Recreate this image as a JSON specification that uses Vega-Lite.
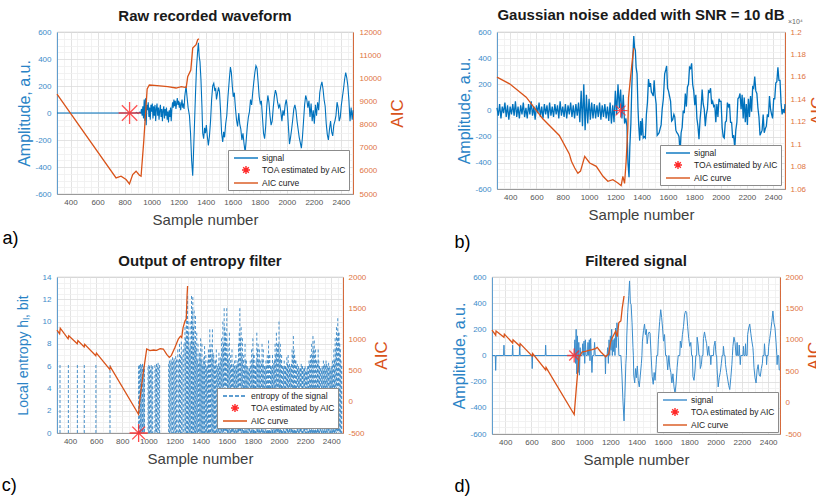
{
"$schema": "https://vega.github.io/schema/vega-lite/v6.json",
"background": "white",
"padding": {"left": 1, "top": 7, "right": 0, "bottom": 0},
"config": {
  "font": "Liberation Sans",
  "view": {"stroke": "#a6a6a6", "strokeWidth": 0.8},
  "title": {"fontSize": 15, "fontWeight": "bold", "color": "#1a1a1a", "offset": 4},
  "axis": {"ticks": false, "domainWidth": 0.8, "labelOverlap": false, "tickCount": 200},
  "legend": {"orient": "bottom-right", "fillColor": "white", "strokeColor": "#8c8c8c", "padding": 2, "labelFontSize": 8.5, "labelColor": "#222222", "symbolSize": 100, "rowPadding": 0, "symbolStrokeWidth": 1.4, "symbolOffset": 10, "labelOffset": 10, "zindex": 1}
},
"resolve": {"scale": {"color": "independent"}},
"datasets": {
"a_sig": [{"s":300,"v":0},{"s":880,"v":0},{"s":890,"v":4},{"s":900,"v":-4},{"s":910,"v":6},{"s":920,"v":0},{"s":925,"v":30},{"s":930,"v":-20},{"s":935,"v":50},{"s":940,"v":-40},{"s":945,"v":100},{"s":950,"v":-60},{"s":955,"v":110},{"s":960,"v":-90},{"s":965,"v":60},{"s":970,"v":20},{"s":975,"v":80},{"s":980,"v":-30},{"s":985,"v":40},{"s":990,"v":-50},{"s":995,"v":60},{"s":1000,"v":10},{"s":1005,"v":70},{"s":1010,"v":-40},{"s":1015,"v":50},{"s":1020,"v":-20},{"s":1025,"v":60},{"s":1030,"v":-60},{"s":1035,"v":30},{"s":1040,"v":70},{"s":1045,"v":-20},{"s":1050,"v":40},{"s":1055,"v":-50},{"s":1060,"v":20},{"s":1065,"v":60},{"s":1070,"v":-30},{"s":1075,"v":30},{"s":1080,"v":-60},{"s":1085,"v":20},{"s":1090,"v":50},{"s":1095,"v":-40},{"s":1100,"v":30},{"s":1105,"v":-20},{"s":1110,"v":40},{"s":1115,"v":-50},{"s":1120,"v":10},{"s":1125,"v":-70},{"s":1130,"v":20},{"s":1135,"v":-30},{"s":1140,"v":40},{"s":1145,"v":-60},{"s":1150,"v":30},{"s":1155,"v":80},{"s":1160,"v":40},{"s":1165,"v":100},{"s":1170,"v":50},{"s":1175,"v":90},{"s":1180,"v":30},{"s":1185,"v":70},{"s":1190,"v":110},{"s":1195,"v":60},{"s":1200,"v":90},{"s":1205,"v":40},{"s":1210,"v":80},{"s":1215,"v":20},{"s":1220,"v":60},{"s":1225,"v":100},{"s":1230,"v":40},{"s":1235,"v":70},{"s":1240,"v":30},{"s":1245,"v":120},{"s":1250,"v":160},{"s":1255,"v":200},{"s":1262,"v":120},{"s":1270,"v":40},{"s":1280,"v":-20},{"s":1288,"v":-150},{"s":1296,"v":-350},{"s":1304,"v":-465},{"s":1310,"v":-300},{"s":1318,"v":-60},{"s":1325,"v":150},{"s":1332,"v":330},{"s":1340,"v":450},{"s":1346,"v":520},{"s":1352,"v":420},{"s":1358,"v":380},{"s":1365,"v":250},{"s":1372,"v":60},{"s":1378,"v":-150},{"s":1385,"v":-190},{"s":1392,"v":-110},{"s":1398,"v":-150},{"s":1405,"v":-90},{"s":1412,"v":-170},{"s":1420,"v":-240},{"s":1428,"v":-170},{"s":1436,"v":-60},{"s":1444,"v":100},{"s":1452,"v":200},{"s":1460,"v":220},{"s":1467,"v":170},{"s":1474,"v":180},{"s":1480,"v":100},{"s":1488,"v":150},{"s":1495,"v":190},{"s":1502,"v":160},{"s":1510,"v":20},{"s":1518,"v":-150},{"s":1526,"v":-215},{"s":1533,"v":-140},{"s":1540,"v":-180},{"s":1548,"v":-80},{"s":1556,"v":-20},{"s":1565,"v":120},{"s":1575,"v":250},{"s":1583,"v":340},{"s":1590,"v":300},{"s":1597,"v":200},{"s":1604,"v":120},{"s":1612,"v":150},{"s":1620,"v":40},{"s":1628,"v":-50},{"s":1636,"v":-100},{"s":1645,"v":0},{"s":1652,"v":-80},{"s":1660,"v":-120},{"s":1668,"v":-200},{"s":1676,"v":-150},{"s":1684,"v":-230},{"s":1692,"v":-290},{"s":1700,"v":-200},{"s":1708,"v":-100},{"s":1716,"v":-30},{"s":1724,"v":10},{"s":1732,"v":100},{"s":1740,"v":60},{"s":1748,"v":150},{"s":1756,"v":230},{"s":1764,"v":300},{"s":1772,"v":350},{"s":1780,"v":330},{"s":1788,"v":230},{"s":1796,"v":120},{"s":1804,"v":70},{"s":1812,"v":90},{"s":1820,"v":-30},{"s":1828,"v":-150},{"s":1836,"v":-190},{"s":1844,"v":-100},{"s":1852,"v":50},{"s":1860,"v":130},{"s":1868,"v":80},{"s":1876,"v":-20},{"s":1884,"v":-90},{"s":1892,"v":-60},{"s":1900,"v":40},{"s":1908,"v":120},{"s":1916,"v":170},{"s":1924,"v":140},{"s":1932,"v":80},{"s":1940,"v":40},{"s":1948,"v":60},{"s":1956,"v":10},{"s":1964,"v":-60},{"s":1972,"v":20},{"s":1980,"v":-20},{"s":1988,"v":60},{"s":1996,"v":100},{"s":2004,"v":40},{"s":2012,"v":-100},{"s":2020,"v":-230},{"s":2028,"v":-180},{"s":2036,"v":-120},{"s":2044,"v":-50},{"s":2052,"v":30},{"s":2060,"v":60},{"s":2068,"v":20},{"s":2076,"v":-60},{"s":2084,"v":-120},{"s":2092,"v":-180},{"s":2100,"v":-220},{"s":2108,"v":-260},{"s":2116,"v":-180},{"s":2124,"v":-60},{"s":2132,"v":60},{"s":2140,"v":130},{"s":2148,"v":100},{"s":2156,"v":40},{"s":2164,"v":90},{"s":2172,"v":-30},{"s":2180,"v":70},{"s":2188,"v":-60},{"s":2196,"v":20},{"s":2204,"v":-80},{"s":2212,"v":60},{"s":2220,"v":-20},{"s":2228,"v":80},{"s":2236,"v":20},{"s":2244,"v":150},{"s":2252,"v":200},{"s":2260,"v":230},{"s":2268,"v":180},{"s":2276,"v":100},{"s":2284,"v":50},{"s":2292,"v":-80},{"s":2300,"v":-160},{"s":2308,"v":-200},{"s":2316,"v":-120},{"s":2324,"v":-60},{"s":2332,"v":-140},{"s":2340,"v":-170},{"s":2348,"v":-90},{"s":2356,"v":-60},{"s":2364,"v":-20},{"s":2372,"v":80},{"s":2380,"v":40},{"s":2388,"v":-60},{"s":2396,"v":-30},{"s":2404,"v":60},{"s":2412,"v":120},{"s":2420,"v":180},{"s":2428,"v":250},{"s":2436,"v":300},{"s":2444,"v":260},{"s":2452,"v":200},{"s":2460,"v":90},{"s":2468,"v":-60},{"s":2476,"v":40},{"s":2484,"v":-50},{"s":2490,"v":20}],
"a_aic": [{"s":300,"aic":9318},{"s":737,"aic":5696},{"s":774,"aic":5768},{"s":811,"aic":5623},{"s":836,"aic":5435},{"s":860,"aic":5840},{"s":885,"aic":5985},{"s":910,"aic":5811},{"s":922,"aic":5768},{"s":942,"aic":7290},{"s":967,"aic":9535},{"s":983,"aic":9709},{"s":1021,"aic":9690},{"s":1119,"aic":9644},{"s":1181,"aic":9580},{"s":1220,"aic":9640},{"s":1256,"aic":9600},{"s":1267,"aic":10064},{"s":1290,"aic":10354},{"s":1304,"aic":11304},{"s":1329,"aic":11449},{"s":1341,"aic":11666},{"s":1350,"aic":11709}],
"a_toa": [{"s":837,"v":0}],
"b_sig": [{"s":300,"v":20},{"s":310,"v":-40},{"s":320,"v":50},{"s":330,"v":-60},{"s":340,"v":30},{"s":350,"v":-20},{"s":360,"v":60},{"s":370,"v":-50},{"s":380,"v":40},{"s":390,"v":-70},{"s":400,"v":30},{"s":410,"v":-30},{"s":420,"v":50},{"s":430,"v":-40},{"s":440,"v":70},{"s":450,"v":-50},{"s":460,"v":30},{"s":470,"v":-60},{"s":480,"v":40},{"s":490,"v":-30},{"s":500,"v":60},{"s":510,"v":-50},{"s":520,"v":20},{"s":530,"v":-60},{"s":540,"v":50},{"s":550,"v":-30},{"s":560,"v":70},{"s":570,"v":-40},{"s":580,"v":30},{"s":590,"v":-70},{"s":600,"v":40},{"s":610,"v":-20},{"s":620,"v":60},{"s":630,"v":-50},{"s":640,"v":30},{"s":650,"v":-60},{"s":660,"v":50},{"s":670,"v":-30},{"s":680,"v":40},{"s":690,"v":-60},{"s":700,"v":60},{"s":710,"v":-40},{"s":720,"v":30},{"s":730,"v":-50},{"s":740,"v":50},{"s":750,"v":-30},{"s":760,"v":40},{"s":770,"v":-60},{"s":780,"v":70},{"s":790,"v":-40},{"s":800,"v":30},{"s":810,"v":-50},{"s":820,"v":50},{"s":830,"v":-60},{"s":840,"v":40},{"s":850,"v":-30},{"s":860,"v":60},{"s":870,"v":-50},{"s":880,"v":40},{"s":890,"v":-60},{"s":900,"v":50},{"s":910,"v":-40},{"s":920,"v":60},{"s":930,"v":-90},{"s":940,"v":150},{"s":950,"v":-120},{"s":960,"v":200},{"s":970,"v":-150},{"s":980,"v":120},{"s":990,"v":-100},{"s":1000,"v":90},{"s":1010,"v":-70},{"s":1020,"v":60},{"s":1030,"v":-60},{"s":1040,"v":50},{"s":1050,"v":-60},{"s":1060,"v":40},{"s":1070,"v":-50},{"s":1080,"v":60},{"s":1090,"v":-70},{"s":1100,"v":40},{"s":1110,"v":-50},{"s":1120,"v":50},{"s":1130,"v":-60},{"s":1140,"v":30},{"s":1150,"v":-80},{"s":1160,"v":60},{"s":1170,"v":-100},{"s":1180,"v":40},{"s":1190,"v":-90},{"s":1200,"v":150},{"s":1210,"v":-30},{"s":1220,"v":200},{"s":1230,"v":20},{"s":1240,"v":160},{"s":1250,"v":-60},{"s":1260,"v":120},{"s":1270,"v":-100},{"s":1280,"v":-60},{"s":1288,"v":-120},{"s":1296,"v":-400},{"s":1304,"v":-510},{"s":1310,"v":-280},{"s":1318,"v":-100},{"s":1325,"v":180},{"s":1332,"v":380},{"s":1340,"v":570},{"s":1346,"v":480},{"s":1352,"v":460},{"s":1358,"v":330},{"s":1365,"v":280},{"s":1372,"v":20},{"s":1378,"v":-120},{"s":1385,"v":-230},{"s":1392,"v":-80},{"s":1398,"v":-190},{"s":1405,"v":-60},{"s":1412,"v":-210},{"s":1420,"v":-200},{"s":1428,"v":-210},{"s":1436,"v":-30},{"s":1444,"v":60},{"s":1452,"v":240},{"s":1460,"v":180},{"s":1467,"v":210},{"s":1474,"v":140},{"s":1480,"v":130},{"s":1488,"v":110},{"s":1495,"v":230},{"s":1502,"v":120},{"s":1510,"v":50},{"s":1518,"v":-190},{"s":1526,"v":-180},{"s":1533,"v":-170},{"s":1540,"v":-140},{"s":1548,"v":-110},{"s":1556,"v":10},{"s":1565,"v":90},{"s":1575,"v":280},{"s":1583,"v":310},{"s":1590,"v":340},{"s":1597,"v":170},{"s":1604,"v":150},{"s":1612,"v":110},{"s":1620,"v":70},{"s":1628,"v":-80},{"s":1636,"v":-70},{"s":1645,"v":-30},{"s":1652,"v":-50},{"s":1660,"v":-150},{"s":1668,"v":-170},{"s":1676,"v":-180},{"s":1684,"v":-200},{"s":1692,"v":-320},{"s":1700,"v":-170},{"s":1708,"v":-130},{"s":1716,"v":0},{"s":1724,"v":-20},{"s":1732,"v":130},{"s":1740,"v":30},{"s":1748,"v":180},{"s":1756,"v":200},{"s":1764,"v":330},{"s":1772,"v":320},{"s":1780,"v":360},{"s":1788,"v":200},{"s":1796,"v":150},{"s":1804,"v":40},{"s":1812,"v":120},{"s":1820,"v":-60},{"s":1828,"v":-120},{"s":1836,"v":-220},{"s":1844,"v":-70},{"s":1852,"v":20},{"s":1860,"v":160},{"s":1868,"v":50},{"s":1876,"v":10},{"s":1884,"v":-120},{"s":1892,"v":-30},{"s":1900,"v":10},{"s":1908,"v":150},{"s":1916,"v":140},{"s":1924,"v":170},{"s":1932,"v":50},{"s":1940,"v":70},{"s":1948,"v":30},{"s":1956,"v":40},{"s":1964,"v":-90},{"s":1972,"v":50},{"s":1980,"v":-50},{"s":1988,"v":90},{"s":1996,"v":70},{"s":2004,"v":70},{"s":2012,"v":-130},{"s":2020,"v":-200},{"s":2028,"v":-210},{"s":2036,"v":-90},{"s":2044,"v":-80},{"s":2052,"v":60},{"s":2060,"v":30},{"s":2068,"v":50},{"s":2076,"v":-90},{"s":2084,"v":-90},{"s":2092,"v":-210},{"s":2100,"v":-190},{"s":2108,"v":-290},{"s":2116,"v":-150},{"s":2124,"v":-90},{"s":2132,"v":90},{"s":2140,"v":100},{"s":2148,"v":130},{"s":2156,"v":10},{"s":2164,"v":120},{"s":2172,"v":-60},{"s":2180,"v":100},{"s":2188,"v":-90},{"s":2196,"v":50},{"s":2204,"v":-110},{"s":2212,"v":90},{"s":2220,"v":-50},{"s":2228,"v":110},{"s":2236,"v":-10},{"s":2244,"v":180},{"s":2252,"v":170},{"s":2260,"v":260},{"s":2268,"v":150},{"s":2276,"v":130},{"s":2284,"v":20},{"s":2292,"v":-50},{"s":2300,"v":-190},{"s":2308,"v":-170},{"s":2316,"v":-150},{"s":2324,"v":-30},{"s":2332,"v":-170},{"s":2340,"v":-140},{"s":2348,"v":-120},{"s":2356,"v":-30},{"s":2364,"v":-50},{"s":2372,"v":110},{"s":2380,"v":10},{"s":2388,"v":-30},{"s":2396,"v":-60},{"s":2404,"v":90},{"s":2412,"v":90},{"s":2420,"v":210},{"s":2428,"v":220},{"s":2436,"v":330},{"s":2444,"v":230},{"s":2452,"v":230},{"s":2460,"v":60},{"s":2468,"v":-30},{"s":2476,"v":10},{"s":2484,"v":-20},{"s":2490,"v":50}],
"b_aic": [{"s":300,"aic":11598},{"s":396,"aic":11538},{"s":522,"aic":11419},{"s":648,"aic":11226},{"s":774,"aic":11077},{"s":850,"aic":10913},{"s":866,"aic":10847},{"s":891,"aic":10787},{"s":915,"aic":10740},{"s":935,"aic":10760},{"s":967,"aic":10891},{"s":1005,"aic":10832},{"s":1055,"aic":10802},{"s":1106,"aic":10713},{"s":1143,"aic":10669},{"s":1181,"aic":10683},{"s":1219,"aic":10654},{"s":1244,"aic":10630},{"s":1257,"aic":10713},{"s":1270,"aic":10650},{"s":1282,"aic":10847},{"s":1295,"aic":11144},{"s":1300,"aic":11411},{"s":1315,"aic":11590},{"s":1328,"aic":11739},{"s":1340,"aic":11857}],
"b_toa": [{"s":1240,"v":0}],
"b_exp": [{"s":2490,"aic":12000,"label":"×10⁴"}],
"c_ent": [{"s":323,"h":6.1},{"s":387,"h":6.1},{"s":456,"h":6.1},{"s":509,"h":6.1},{"s":598,"h":6.1},{"s":706,"h":6.1},{"s":925,"h":6.0},{"s":930,"h":6.1},{"s":935,"h":6.0},{"s":940,"h":6.2},{"s":945,"h":5.9},{"s":950,"h":6.1},{"s":955,"h":6.2},{"s":960,"h":5.8},{"s":965,"h":6.0},{"s":970,"h":6.2},{"s":997,"h":5.9},{"s":1003,"h":6.1},{"s":1009,"h":6.0},{"s":1015,"h":5.7},{"s":1021,"h":6.1},{"s":1027,"h":5.9},{"s":1033,"h":6.0},{"s":1050,"h":6.1},{"s":1056,"h":5.8},{"s":1062,"h":6.2},{"s":1068,"h":6.0},{"s":1074,"h":6.3},{"s":1080,"h":5.9},{"s":1086,"h":6.1},{"s":1155,"h":6.2},{"s":1161,"h":6.5},{"s":1167,"h":6.3},{"s":1173,"h":6.6},{"s":1179,"h":6.4},{"s":1185,"h":6.8},{"s":1191,"h":6.5},{"s":1197,"h":6.7},{"s":1203,"h":6.4},{"s":1209,"h":6.9},{"s":1215,"h":6.6},{"s":1225,"h":7.5},{"s":1232,"h":6.5},{"s":1238,"h":8.0},{"s":1245,"h":7.0},{"s":1252,"h":8.2},{"s":1258,"h":6.8},{"s":1265,"h":7.5},{"s":1272,"h":8.0},{"s":1280,"h":9.5},{"s":1290,"h":11.0},{"s":1300,"h":12.3},{"s":1310,"h":10.0},{"s":1320,"h":8.0},{"s":1330,"h":12.3},{"s":1340,"h":12.2},{"s":1350,"h":11.0},{"s":1360,"h":10.5},{"s":1370,"h":9.0},{"s":1380,"h":8.0},{"s":1390,"h":7.2},{"s":1400,"h":8.5},{"s":1410,"h":8.0},{"s":1420,"h":6.5},{"s":1430,"h":7.8},{"s":1440,"h":7.0},{"s":1450,"h":6.0},{"s":1460,"h":7.5},{"s":1470,"h":9.3},{"s":1480,"h":8.0},{"s":1490,"h":9.3},{"s":1500,"h":7.0},{"s":1510,"h":6.5},{"s":1520,"h":7.5},{"s":1530,"h":6.0},{"s":1540,"h":7.2},{"s":1550,"h":6.8},{"s":1560,"h":8.5},{"s":1570,"h":10.0},{"s":1580,"h":11.2},{"s":1590,"h":9.0},{"s":1600,"h":11.2},{"s":1610,"h":8.0},{"s":1620,"h":9.0},{"s":1630,"h":7.0},{"s":1640,"h":7.5},{"s":1650,"h":6.2},{"s":1660,"h":6.5},{"s":1670,"h":7.0},{"s":1680,"h":6.2},{"s":1690,"h":8.0},{"s":1700,"h":11.2},{"s":1710,"h":9.5},{"s":1720,"h":8.5},{"s":1730,"h":7.0},{"s":1740,"h":8.0},{"s":1750,"h":6.5},{"s":1760,"h":6.0},{"s":1770,"h":5.8},{"s":1780,"h":6.5},{"s":1790,"h":7.5},{"s":1800,"h":8.5},{"s":1810,"h":7.0},{"s":1820,"h":6.0},{"s":1830,"h":9.0},{"s":1840,"h":8.0},{"s":1850,"h":7.5},{"s":1860,"h":6.5},{"s":1870,"h":8.0},{"s":1880,"h":7.5},{"s":1890,"h":6.0},{"s":1900,"h":6.5},{"s":1910,"h":7.0},{"s":1920,"h":8.3},{"s":1930,"h":7.0},{"s":1940,"h":6.0},{"s":1950,"h":7.0},{"s":1960,"h":6.3},{"s":1970,"h":8.0},{"s":1980,"h":9.0},{"s":1990,"h":8.0},{"s":2000,"h":10.0},{"s":2010,"h":8.0},{"s":2020,"h":7.0},{"s":2030,"h":6.0},{"s":2040,"h":6.5},{"s":2050,"h":6.0},{"s":2060,"h":6.8},{"s":2070,"h":7.0},{"s":2080,"h":6.2},{"s":2090,"h":6.0},{"s":2100,"h":7.5},{"s":2110,"h":8.7},{"s":2120,"h":7.0},{"s":2130,"h":6.5},{"s":2140,"h":6.2},{"s":2150,"h":6.0},{"s":2160,"h":5.8},{"s":2170,"h":6.2},{"s":2180,"h":6.0},{"s":2190,"h":5.8},{"s":2200,"h":6.0},{"s":2210,"h":5.5},{"s":2220,"h":6.0},{"s":2230,"h":6.5},{"s":2240,"h":7.0},{"s":2250,"h":8.0},{"s":2260,"h":8.7},{"s":2270,"h":8.3},{"s":2280,"h":7.5},{"s":2290,"h":6.5},{"s":2300,"h":7.5},{"s":2310,"h":6.0},{"s":2320,"h":5.8},{"s":2330,"h":6.0},{"s":2340,"h":6.5},{"s":2350,"h":6.2},{"s":2360,"h":6.5},{"s":2370,"h":6.0},{"s":2380,"h":6.3},{"s":2390,"h":5.8},{"s":2400,"h":6.0},{"s":2410,"h":6.5},{"s":2420,"h":7.5},{"s":2430,"h":8.5},{"s":2440,"h":9.5},{"s":2450,"h":10.3},{"s":2460,"h":9.0},{"s":2470,"h":7.5},{"s":2480,"h":6.0},{"s":1285,"h":8.5},{"s":1295,"h":10.5},{"s":1305,"h":9.0},{"s":1315,"h":7.5},{"s":1325,"h":10.0},{"s":1335,"h":11.0},{"s":1345,"h":9.5},{"s":1355,"h":8.0},{"s":1365,"h":7.5},{"s":1375,"h":6.5},{"s":1385,"h":6.2},{"s":1395,"h":7.0},{"s":1405,"h":6.5},{"s":1415,"h":6.0},{"s":1425,"h":6.8},{"s":1435,"h":6.2},{"s":1445,"h":5.8},{"s":1455,"h":6.5},{"s":1465,"h":7.0},{"s":1475,"h":7.5},{"s":1485,"h":6.8},{"s":1495,"h":7.2},{"s":1505,"h":6.0},{"s":1515,"h":6.5},{"s":1525,"h":5.8},{"s":1535,"h":6.2},{"s":1545,"h":6.0},{"s":1555,"h":6.5},{"s":1565,"h":7.5},{"s":1575,"h":8.0},{"s":1585,"h":9.5},{"s":1595,"h":8.5},{"s":1605,"h":7.0},{"s":1615,"h":6.5},{"s":1625,"h":6.0},{"s":1635,"h":6.2},{"s":1645,"h":5.8},{"s":1655,"h":6.0},{"s":1665,"h":5.8},{"s":1675,"h":6.0},{"s":1685,"h":6.5},{"s":1695,"h":9.0},{"s":1705,"h":8.5},{"s":1715,"h":7.0},{"s":1725,"h":6.5},{"s":1735,"h":6.0},{"s":1745,"h":6.5},{"s":1755,"h":5.8},{"s":1765,"h":5.5},{"s":1775,"h":5.8},{"s":1785,"h":6.0},{"s":1795,"h":6.5},{"s":1805,"h":7.0},{"s":1815,"h":6.0},{"s":1825,"h":6.5},{"s":1835,"h":7.5},{"s":1845,"h":6.5},{"s":1855,"h":6.0},{"s":1865,"h":6.2},{"s":1875,"h":6.5},{"s":1885,"h":6.0},{"s":1895,"h":5.8},{"s":1905,"h":6.0},{"s":1915,"h":6.5},{"s":1925,"h":7.0},{"s":1935,"h":6.0},{"s":1945,"h":5.8},{"s":1955,"h":6.0},{"s":1965,"h":6.5},{"s":1975,"h":7.0},{"s":1985,"h":7.5},{"s":1995,"h":8.0},{"s":2005,"h":7.0},{"s":2015,"h":6.5},{"s":2025,"h":6.0},{"s":2035,"h":5.8},{"s":2045,"h":6.0},{"s":2055,"h":5.8},{"s":2065,"h":6.2},{"s":2075,"h":6.0},{"s":2085,"h":5.8},{"s":2095,"h":6.2},{"s":2105,"h":7.0},{"s":2115,"h":7.5},{"s":2125,"h":6.5},{"s":2135,"h":6.0},{"s":2145,"h":5.8},{"s":2155,"h":5.6},{"s":2165,"h":5.8},{"s":2175,"h":6.0},{"s":2185,"h":5.6},{"s":2195,"h":5.8},{"s":2205,"h":5.5},{"s":2215,"h":5.8},{"s":2225,"h":6.0},{"s":2235,"h":6.2},{"s":2245,"h":6.5},{"s":2255,"h":7.0},{"s":2265,"h":7.5},{"s":2275,"h":7.0},{"s":2285,"h":6.5},{"s":2295,"h":6.2},{"s":2305,"h":6.5},{"s":2315,"h":5.8},{"s":2325,"h":5.6},{"s":2335,"h":5.8},{"s":2345,"h":6.0},{"s":2355,"h":6.0},{"s":2365,"h":6.2},{"s":2375,"h":5.8},{"s":2385,"h":6.0},{"s":2395,"h":5.6},{"s":2405,"h":5.8},{"s":2415,"h":6.2},{"s":2425,"h":6.5},{"s":2435,"h":7.5},{"s":2445,"h":8.5},{"s":2455,"h":9.0},{"s":2465,"h":8.0},{"s":2475,"h":6.5}],
"c_aic": [{"s":300,"aic":1150},{"s":320,"aic":1090},{"s":325,"aic":1180},{"s":385,"aic":1010},{"s":390,"aic":1060},{"s":455,"aic":930},{"s":460,"aic":980},{"s":508,"aic":880},{"s":512,"aic":920},{"s":597,"aic":740},{"s":602,"aic":780},{"s":704,"aic":520},{"s":709,"aic":560},{"s":924,"aic":-200},{"s":935,"aic":45},{"s":961,"aic":473},{"s":987,"aic":846},{"s":1012,"aic":819},{"s":1040,"aic":830},{"s":1063,"aic":825},{"s":1090,"aic":850},{"s":1114,"aic":846},{"s":1140,"aic":760},{"s":1160,"aic":713},{"s":1175,"aic":740},{"s":1203,"aic":870},{"s":1229,"aic":1006},{"s":1245,"aic":1052},{"s":1255,"aic":1030},{"s":1265,"aic":1186},{"s":1280,"aic":1293},{"s":1290,"aic":1330},{"s":1296,"aic":1700},{"s":1300,"aic":1855}],
"c_toa": [{"s":925,"h":0}],
"d_sig": [{"s":300,"v":0},{"s":325,"v":0},{"s":328,"v":-114},{"s":331,"v":0},{"s":388,"v":0},{"s":391,"v":79},{"s":394,"v":0},{"s":454,"v":0},{"s":457,"v":79},{"s":460,"v":0},{"s":508,"v":0},{"s":511,"v":79},{"s":514,"v":0},{"s":603,"v":0},{"s":606,"v":-100},{"s":609,"v":0},{"s":705,"v":0},{"s":708,"v":79},{"s":711,"v":0},{"s":925,"v":0},{"s":930,"v":120},{"s":935,"v":-60},{"s":940,"v":200},{"s":945,"v":-140},{"s":950,"v":150},{"s":955,"v":-130},{"s":960,"v":100},{"s":965,"v":-150},{"s":970,"v":60},{"s":975,"v":0},{"s":985,"v":0},{"s":990,"v":90},{"s":995,"v":0},{"s":1000,"v":110},{"s":1005,"v":-60},{"s":1010,"v":120},{"s":1015,"v":0},{"s":1025,"v":0},{"s":1030,"v":100},{"s":1035,"v":0},{"s":1040,"v":120},{"s":1045,"v":-40},{"s":1050,"v":130},{"s":1055,"v":0},{"s":1060,"v":-130},{"s":1065,"v":0},{"s":1075,"v":0},{"s":1080,"v":100},{"s":1085,"v":0},{"s":1160,"v":0},{"s":1163,"v":-140},{"s":1166,"v":0},{"s":1175,"v":0},{"s":1180,"v":60},{"s":1185,"v":-60},{"s":1190,"v":120},{"s":1195,"v":0},{"s":1200,"v":150},{"s":1205,"v":40},{"s":1210,"v":200},{"s":1215,"v":0},{"s":1220,"v":120},{"s":1225,"v":30},{"s":1230,"v":130},{"s":1235,"v":0},{"s":1240,"v":210},{"s":1245,"v":60},{"s":1250,"v":250},{"s":1255,"v":200},{"s":1260,"v":140},{"s":1265,"v":0},{"s":1280,"v":0},{"s":1288,"v":-150},{"s":1296,"v":-350},{"s":1304,"v":-500},{"s":1310,"v":-320},{"s":1318,"v":-60},{"s":1322,"v":0},{"s":1325,"v":150},{"s":1332,"v":330},{"s":1340,"v":460},{"s":1346,"v":570},{"s":1352,"v":400},{"s":1358,"v":390},{"s":1365,"v":250},{"s":1372,"v":60},{"s":1375,"v":0},{"s":1378,"v":-150},{"s":1385,"v":-210},{"s":1392,"v":-100},{"s":1398,"v":-170},{"s":1405,"v":-80},{"s":1412,"v":-190},{"s":1420,"v":-240},{"s":1428,"v":-150},{"s":1436,"v":-60},{"s":1440,"v":0},{"s":1444,"v":110},{"s":1452,"v":190},{"s":1460,"v":240},{"s":1467,"v":160},{"s":1474,"v":200},{"s":1480,"v":90},{"s":1488,"v":160},{"s":1495,"v":180},{"s":1502,"v":170},{"s":1510,"v":0},{"s":1518,"v":-160},{"s":1526,"v":-220},{"s":1533,"v":-130},{"s":1540,"v":-190},{"s":1548,"v":-70},{"s":1552,"v":0},{"s":1560,"v":0},{"s":1565,"v":120},{"s":1575,"v":260},{"s":1583,"v":350},{"s":1590,"v":290},{"s":1597,"v":210},{"s":1604,"v":110},{"s":1612,"v":160},{"s":1620,"v":0},{"s":1628,"v":0},{"s":1636,"v":-110},{"s":1645,"v":0},{"s":1652,"v":-90},{"s":1660,"v":-130},{"s":1668,"v":-210},{"s":1676,"v":-140},{"s":1684,"v":-240},{"s":1692,"v":-290},{"s":1700,"v":-210},{"s":1708,"v":-90},{"s":1716,"v":0},{"s":1728,"v":0},{"s":1732,"v":110},{"s":1740,"v":60},{"s":1748,"v":160},{"s":1756,"v":220},{"s":1764,"v":310},{"s":1772,"v":340},{"s":1780,"v":330},{"s":1788,"v":220},{"s":1796,"v":130},{"s":1804,"v":70},{"s":1812,"v":100},{"s":1818,"v":0},{"s":1824,"v":0},{"s":1828,"v":-160},{"s":1836,"v":-190},{"s":1844,"v":-110},{"s":1850,"v":0},{"s":1856,"v":0},{"s":1860,"v":140},{"s":1868,"v":80},{"s":1874,"v":0},{"s":1880,"v":0},{"s":1884,"v":-100},{"s":1892,"v":-70},{"s":1898,"v":0},{"s":1904,"v":0},{"s":1908,"v":130},{"s":1916,"v":180},{"s":1924,"v":130},{"s":1932,"v":90},{"s":1940,"v":0},{"s":1948,"v":70},{"s":1954,"v":0},{"s":1960,"v":0},{"s":1964,"v":-70},{"s":1968,"v":0},{"s":1984,"v":0},{"s":1988,"v":70},{"s":1996,"v":110},{"s":2004,"v":0},{"s":2008,"v":0},{"s":2012,"v":-110},{"s":2020,"v":-240},{"s":2028,"v":-170},{"s":2036,"v":-130},{"s":2044,"v":-60},{"s":2050,"v":0},{"s":2056,"v":0},{"s":2060,"v":70},{"s":2066,"v":0},{"s":2072,"v":0},{"s":2076,"v":-70},{"s":2084,"v":-130},{"s":2092,"v":-180},{"s":2100,"v":-230},{"s":2108,"v":-260},{"s":2116,"v":-170},{"s":2124,"v":-70},{"s":2128,"v":0},{"s":2132,"v":70},{"s":2140,"v":140},{"s":2148,"v":100},{"s":2156,"v":0},{"s":2160,"v":0},{"s":2164,"v":100},{"s":2168,"v":0},{"s":2176,"v":0},{"s":2180,"v":80},{"s":2184,"v":0},{"s":2188,"v":-70},{"s":2192,"v":0},{"s":2208,"v":0},{"s":2212,"v":70},{"s":2216,"v":0},{"s":2224,"v":0},{"s":2228,"v":90},{"s":2232,"v":0},{"s":2240,"v":0},{"s":2244,"v":160},{"s":2252,"v":210},{"s":2260,"v":240},{"s":2268,"v":170},{"s":2276,"v":110},{"s":2284,"v":60},{"s":2288,"v":0},{"s":2292,"v":-90},{"s":2300,"v":-170},{"s":2308,"v":-210},{"s":2316,"v":-110},{"s":2324,"v":-70},{"s":2332,"v":-150},{"s":2340,"v":-160},{"s":2348,"v":-100},{"s":2356,"v":-60},{"s":2360,"v":0},{"s":2368,"v":0},{"s":2372,"v":90},{"s":2378,"v":0},{"s":2386,"v":0},{"s":2388,"v":-70},{"s":2392,"v":0},{"s":2400,"v":0},{"s":2404,"v":70},{"s":2412,"v":130},{"s":2420,"v":190},{"s":2428,"v":260},{"s":2436,"v":340},{"s":2444,"v":250},{"s":2452,"v":210},{"s":2460,"v":100},{"s":2466,"v":0},{"s":2468,"v":-70},{"s":2472,"v":0},{"s":2480,"v":0},{"s":2484,"v":-110},{"s":2490,"v":-110}],
"d_aic": [{"s":300,"aic":1153},{"s":328,"aic":1073},{"s":331,"aic":1140},{"s":391,"aic":1040},{"s":394,"aic":1090},{"s":457,"aic":950},{"s":460,"aic":1000},{"s":511,"aic":900},{"s":514,"aic":940},{"s":606,"aic":740},{"s":609,"aic":780},{"s":708,"aic":520},{"s":711,"aic":560},{"s":925,"aic":-190},{"s":941,"aic":226},{"s":962,"aic":730},{"s":987,"aic":810},{"s":1011,"aic":817},{"s":1037,"aic":830},{"s":1061,"aic":843},{"s":1088,"aic":860},{"s":1100,"aic":880},{"s":1126,"aic":810},{"s":1164,"aic":730},{"s":1188,"aic":780},{"s":1202,"aic":968},{"s":1214,"aic":1030},{"s":1240,"aic":1136},{"s":1253,"aic":1050},{"s":1264,"aic":1270},{"s":1273,"aic":1290},{"s":1280,"aic":1300},{"s":1290,"aic":1500},{"s":1304,"aic":1697}],
"d_toa": [{"s":925,"v":0}]
},
"spacing": 0,
"vconcat": [
{
"spacing": 48,
"resolve": {"scale": {"color": "independent"}},
"hconcat": [
{
"title": {"text": "a)", "orient": "bottom", "anchor": "start", "fontSize": 18, "fontWeight": "normal", "color": "#000000", "offset": 3, "dx": -14},
"resolve": {"scale": {"color": "independent"}},
"vconcat": [{
"title": "Raw recorded waveform",
"width": 296, "height": 162,
"resolve": {"scale": {"y": "independent"}},
"layer": [
 {"layer": [
  {"data": {"name": "a_sig"}, "mark": {"type": "line", "strokeWidth": 1.1},
   "encoding": {
    "x": {"field": "s", "type": "quantitative", "scale": {"domain": [300, 2490], "nice": false, "zero": false},
      "axis": {"title": "Sample number", "tickCount": 200, "values": [300,350,400,450,500,550,600,650,700,750,800,850,900,950,1000,1050,1100,1150,1200,1250,1300,1350,1400,1450,1500,1550,1600,1650,1700,1750,1800,1850,1900,1950,2000,2050,2100,2150,2200,2250,2300,2350,2400,2450], "labelExpr": "datum.value % 200 === 0 ? '' + datum.value : ''", "grid": true, "gridColor": {"condition": {"test": "datum.value % 200 === 0", "value": "#dcdcdc"}, "value": "#efefef"}, "gridWidth": 0.8, "labelFontSize": 8, "labelColor": "#555555", "labelPadding": 4, "labelOverlap": false, "labelFlush": false, "domainColor": "#8a8a8a", "titleFontSize": 15, "titleColor": "#404040", "titleFontWeight": "normal", "titlePadding": 6}},
    "y": {"field": "v", "type": "quantitative", "scale": {"domain": [-600, 600], "nice": false, "zero": false},
      "axis": {"title": "Amplitude, a.u.", "tickCount": 200, "values": [-600,-550,-500,-450,-400,-350,-300,-250,-200,-150,-100,-50,0,50,100,150,200,250,300,350,400,450,500,550,600], "labelExpr": "datum.value % 200 === 0 ? '' + datum.value : ''", "grid": true, "gridColor": {"condition": {"test": "datum.value % 200 === 0", "value": "#dcdcdc"}, "value": "#efefef"}, "gridWidth": 0.8, "labelFontSize": 8, "labelColor": "#3d8bc9", "labelPadding": 6, "labelOverlap": false, "domainColor": "#3d8bc9", "titleFontSize": 16, "titleColor": "#2a83c6", "titleFontWeight": "normal", "titlePadding": 2}},
    "color": {"datum": "signal", "type": "nominal",
      "scale": {"domain": ["signal", "TOA estimated by AIC", "AIC curve"], "range": ["#0072BD", "#FF2A2A", "#D95319"]},
      "legend": {"title": null, "orient": "bottom-right", "offset": 4,
        "encode": {"symbols": {"update": {"shape": {"signal": "datum.value === 'TOA estimated by AIC' ? 'M-0.8,0L0.8,0M0,-0.8L0,0.8M-0.56,-0.56L0.56,0.56M-0.56,0.56L0.56,-0.56' : 'M-2.4,0L2.4,0'"}, "fill": {"value": "transparent"}}}}}}
   }},
  {"data": {"name": "a_toa"}, "mark": {"type": "point", "shape": "M-1,0L1,0M0,-1L0,1M-0.7,-0.7L0.7,0.7M-0.7,0.7L0.7,-0.7", "filled": false, "size": 480, "strokeWidth": 1.3, "opacity": 0.8},
   "encoding": {"x": {"field": "s", "type": "quantitative"}, "y": {"field": "v", "type": "quantitative"}, "color": {"datum": "TOA estimated by AIC", "type": "nominal"}}}
 ]},
 {"data": {"name": "a_aic"}, "mark": {"type": "line", "strokeWidth": 1.3},
  "encoding": {
   "x": {"field": "s", "type": "quantitative", "scale": {"domain": [300, 2490], "nice": false, "zero": false}},
   "y": {"field": "aic", "type": "quantitative", "scale": {"domain": [5000, 12000], "nice": false, "zero": false},
     "axis": {"orient": "right", "title": "AIC", "values": [5000,6000,7000,8000,9000,10000,11000,12000], "labelExpr": "'' + datum.value", "grid": false, "labelFontSize": 8, "labelColor": "#e0743f", "labelPadding": 6, "domainColor": "#D95319", "titleFontSize": 17, "titleColor": "#D95319", "titleFontWeight": "normal", "titleAngle": 270, "titleBaseline": "top", "titlePadding": 8}},
   "color": {"datum": "AIC curve", "type": "nominal"}
  }}
]
}]
},
{
"title": {"text": "b)", "orient": "bottom", "anchor": "start", "fontSize": 18, "fontWeight": "normal", "color": "#000000", "offset": 12, "dx": -2},
"resolve": {"scale": {"color": "independent"}},
"vconcat": [{
"title": {"text": "Gaussian noise added with SNR = 10 dB", "offset": -5},
"width": 288, "height": 157,
"resolve": {"scale": {"y": "independent"}},
"layer": [
 {"layer": [
  {"data": {"name": "b_sig"}, "mark": {"type": "line", "strokeWidth": 1.3},
   "encoding": {
    "x": {"field": "s", "type": "quantitative", "scale": {"domain": [300, 2490], "nice": false, "zero": false},
      "axis": {"title": "Sample number", "tickCount": 200, "values": [300,350,400,450,500,550,600,650,700,750,800,850,900,950,1000,1050,1100,1150,1200,1250,1300,1350,1400,1450,1500,1550,1600,1650,1700,1750,1800,1850,1900,1950,2000,2050,2100,2150,2200,2250,2300,2350,2400,2450], "labelExpr": "datum.value % 200 === 0 ? '' + datum.value : ''", "grid": true, "gridColor": {"condition": {"test": "datum.value % 200 === 0", "value": "#dcdcdc"}, "value": "#efefef"}, "gridWidth": 0.8, "labelFontSize": 8, "labelColor": "#555555", "labelPadding": 4, "labelOverlap": false, "labelFlush": false, "domainColor": "#8a8a8a", "titleFontSize": 15, "titleColor": "#404040", "titleFontWeight": "normal", "titlePadding": 6}},
    "y": {"field": "v", "type": "quantitative", "scale": {"domain": [-600, 600], "nice": false, "zero": false},
      "axis": {"title": "Amplitude, a.u.", "tickCount": 200, "values": [-600,-550,-500,-450,-400,-350,-300,-250,-200,-150,-100,-50,0,50,100,150,200,250,300,350,400,450,500,550,600], "labelExpr": "datum.value % 200 === 0 ? '' + datum.value : ''", "grid": true, "gridColor": {"condition": {"test": "datum.value % 200 === 0", "value": "#dcdcdc"}, "value": "#efefef"}, "gridWidth": 0.8, "labelFontSize": 8, "labelColor": "#3d8bc9", "labelPadding": 6, "labelOverlap": false, "domainColor": "#3d8bc9", "titleFontSize": 16, "titleColor": "#2a83c6", "titleFontWeight": "normal", "titlePadding": 2}},
    "color": {"datum": "signal", "type": "nominal",
      "scale": {"domain": ["signal", "TOA estimated by AIC", "AIC curve"], "range": ["#0072BD", "#FF2A2A", "#D95319"]},
      "legend": {"title": null, "orient": "bottom-right", "offset": 4,
        "encode": {"symbols": {"update": {"shape": {"signal": "datum.value === 'TOA estimated by AIC' ? 'M-0.8,0L0.8,0M0,-0.8L0,0.8M-0.56,-0.56L0.56,0.56M-0.56,0.56L0.56,-0.56' : 'M-2.4,0L2.4,0'"}, "fill": {"value": "transparent"}}}}}}
   }},
  {"data": {"name": "b_toa"}, "mark": {"type": "point", "shape": "M-1,0L1,0M0,-1L0,1M-0.7,-0.7L0.7,0.7M-0.7,0.7L0.7,-0.7", "filled": false, "size": 200, "strokeWidth": 1.2, "opacity": 0.8},
   "encoding": {"x": {"field": "s", "type": "quantitative"}, "y": {"field": "v", "type": "quantitative"}, "color": {"datum": "TOA estimated by AIC", "type": "nominal"}}}
 ]},
 {"layer": [
  {"data": {"name": "b_aic"}, "mark": {"type": "line", "strokeWidth": 1.3},
   "encoding": {
    "x": {"field": "s", "type": "quantitative", "scale": {"domain": [300, 2490], "nice": false, "zero": false}},
    "y": {"field": "aic", "type": "quantitative", "scale": {"domain": [10600, 12000], "nice": false, "zero": false},
      "axis": {"orient": "right", "title": "AIC", "values": [10600,10800,11000,11200,11400,11600,11800,12000], "labelExpr": "format(datum.value / 10000, '.2~f')", "grid": false, "labelFontSize": 8, "labelColor": "#e0743f", "labelPadding": 5, "domainColor": "#D95319", "titleFontSize": 17, "titleColor": "#D95319", "titleFontWeight": "normal", "titleAngle": 270, "titleBaseline": "top", "titlePadding": 4}},
    "color": {"datum": "AIC curve", "type": "nominal"}
   }},
  {"data": {"name": "b_exp"}, "mark": {"type": "text", "align": "left", "baseline": "bottom", "dx": 3, "dy": -7, "fontSize": 7, "color": "#666666"},
   "encoding": {"x": {"field": "s", "type": "quantitative"}, "y": {"field": "aic", "type": "quantitative"}, "text": {"field": "label"}}}
 ]}
]
}]
}
]
},
{
"spacing": 60,
"resolve": {"scale": {"color": "independent"}},
"hconcat": [
{
"title": {"text": "c)", "orient": "bottom", "anchor": "start", "fontSize": 18, "fontWeight": "normal", "color": "#000000", "offset": 11, "dx": -14},
"resolve": {"scale": {"color": "independent"}},
"vconcat": [{
"title": "Output of entropy filter",
"width": 286, "height": 156,
"resolve": {"scale": {"y": "independent"}},
"layer": [
 {"layer": [
  {"data": {"name": "c_ent"}, "mark": {"type": "rule", "strokeWidth": 1, "strokeDash": [3, 2], "opacity": 0.85},
   "encoding": {
    "x": {"field": "s", "type": "quantitative", "scale": {"domain": [300, 2490], "nice": false, "zero": false},
      "axis": {"title": "Sample number", "tickCount": 200, "values": [300,350,400,450,500,550,600,650,700,750,800,850,900,950,1000,1050,1100,1150,1200,1250,1300,1350,1400,1450,1500,1550,1600,1650,1700,1750,1800,1850,1900,1950,2000,2050,2100,2150,2200,2250,2300,2350,2400,2450], "labelExpr": "datum.value % 200 === 0 ? '' + datum.value : ''", "grid": true, "gridColor": {"condition": {"test": "datum.value % 200 === 0", "value": "#dcdcdc"}, "value": "#efefef"}, "gridWidth": 0.8, "labelFontSize": 8, "labelColor": "#555555", "labelPadding": 4, "labelOverlap": false, "labelFlush": false, "domainColor": "#8a8a8a", "titleFontSize": 15, "titleColor": "#404040", "titleFontWeight": "normal", "titlePadding": 6}},
    "y": {"field": "h", "type": "quantitative", "scale": {"domain": [0, 14], "nice": false, "zero": false},
      "axis": {"title": "Local entropy  hₗ, bit", "tickCount": 200, "values": [0,0.5,1,1.5,2,2.5,3,3.5,4,4.5,5,5.5,6,6.5,7,7.5,8,8.5,9,9.5,10,10.5,11,11.5,12,12.5,13,13.5,14], "labelExpr": "datum.value % 2 === 0 ? '' + datum.value : ''", "grid": true, "gridColor": {"condition": {"test": "datum.value % 2 === 0", "value": "#dcdcdc"}, "value": "#efefef"}, "gridWidth": 0.8, "labelFontSize": 8, "labelColor": "#3d8bc9", "labelPadding": 6, "labelOverlap": false, "domainColor": "#3d8bc9", "titleFontSize": 14, "titleColor": "#2a83c6", "titleFontWeight": "normal", "titlePadding": 12}},
    "y2": {"datum": 0},
    "color": {"datum": "entropy of the signal", "type": "nominal",
      "scale": {"domain": ["entropy of the signal", "TOA estimated by AIC", "AIC curve"], "range": ["#2a7fc2", "#FF2A2A", "#D95319"]}}
   }},
  {"data": {"name": "c_toa"}, "mark": {"type": "point", "shape": "M-1,0L1,0M0,-1L0,1M-0.7,-0.7L0.7,0.7M-0.7,0.7L0.7,-0.7", "filled": false, "size": 330, "strokeWidth": 1.3, "opacity": 0.85, "clip": false},
   "encoding": {"x": {"field": "s", "type": "quantitative"}, "y": {"field": "h", "type": "quantitative"}, "color": {"datum": "TOA estimated by AIC", "type": "nominal"}}}
 ]},
 {"data": {"name": "c_aic"}, "mark": {"type": "line", "strokeWidth": 1.3},
  "encoding": {
   "x": {"field": "s", "type": "quantitative", "scale": {"domain": [300, 2490], "nice": false, "zero": false}},
   "y": {"field": "aic", "type": "quantitative", "scale": {"domain": [-500, 2000], "nice": false, "zero": false},
     "axis": {"orient": "right", "title": "AIC", "values": [-500,0,500,1000,1500,2000], "labelExpr": "'' + datum.value", "grid": false, "labelFontSize": 8, "labelColor": "#e0743f", "labelPadding": 5, "domainColor": "#D95319", "titleFontSize": 17, "titleColor": "#D95319", "titleFontWeight": "normal", "titleAngle": 270, "titleBaseline": "top", "titlePadding": 8}},
   "color": {"datum": "AIC curve", "type": "nominal",
      "legend": {"title": null, "orient": "bottom-right", "offset": 5,
        "encode": {"symbols": {"update": {"shape": {"signal": "datum.value === 'TOA estimated by AIC' ? 'M-0.8,0L0.8,0M0,-0.8L0,0.8M-0.56,-0.56L0.56,0.56M-0.56,0.56L0.56,-0.56' : 'M-2.4,0L2.4,0'"}, "fill": {"value": "transparent"}, "strokeDash": [{"test": "datum.value === 'entropy of the signal'", "value": [4, 2]}, {"value": [1, 0]}]}}}}}
  }}
]
}]
},
{
"title": {"text": "d)", "orient": "bottom", "anchor": "start", "fontSize": 18, "fontWeight": "normal", "color": "#000000", "offset": 11, "dx": 3},
"resolve": {"scale": {"color": "independent"}},
"vconcat": [{
"title": "Filtered signal",
"width": 288, "height": 157,
"resolve": {"scale": {"y": "independent"}},
"layer": [
 {"layer": [
  {"data": {"name": "d_sig"}, "mark": {"type": "line", "strokeWidth": 1},
   "encoding": {
    "x": {"field": "s", "type": "quantitative", "scale": {"domain": [300, 2490], "nice": false, "zero": false},
      "axis": {"title": "Sample number", "tickCount": 200, "values": [300,350,400,450,500,550,600,650,700,750,800,850,900,950,1000,1050,1100,1150,1200,1250,1300,1350,1400,1450,1500,1550,1600,1650,1700,1750,1800,1850,1900,1950,2000,2050,2100,2150,2200,2250,2300,2350,2400,2450], "labelExpr": "datum.value % 200 === 0 ? '' + datum.value : ''", "grid": true, "gridColor": {"condition": {"test": "datum.value % 200 === 0", "value": "#dcdcdc"}, "value": "#efefef"}, "gridWidth": 0.8, "labelFontSize": 8, "labelColor": "#555555", "labelPadding": 4, "labelOverlap": false, "labelFlush": false, "domainColor": "#8a8a8a", "titleFontSize": 15, "titleColor": "#404040", "titleFontWeight": "normal", "titlePadding": 6}},
    "y": {"field": "v", "type": "quantitative", "scale": {"domain": [-600, 600], "nice": false, "zero": false},
      "axis": {"title": "Amplitude, a.u.", "tickCount": 200, "values": [-600,-550,-500,-450,-400,-350,-300,-250,-200,-150,-100,-50,0,50,100,150,200,250,300,350,400,450,500,550,600], "labelExpr": "datum.value % 200 === 0 ? '' + datum.value : ''", "grid": true, "gridColor": {"condition": {"test": "datum.value % 200 === 0", "value": "#dcdcdc"}, "value": "#efefef"}, "gridWidth": 0.8, "labelFontSize": 8, "labelColor": "#3d8bc9", "labelPadding": 6, "labelOverlap": false, "domainColor": "#3d8bc9", "titleFontSize": 16, "titleColor": "#2a83c6", "titleFontWeight": "normal", "titlePadding": 2}},
    "color": {"datum": "signal", "type": "nominal",
      "scale": {"domain": ["signal", "TOA estimated by AIC", "AIC curve"], "range": ["#3a8ccc", "#FF2A2A", "#D95319"]},
      "legend": {"title": null, "orient": "bottom-right", "offset": 2,
        "encode": {"symbols": {"update": {"shape": {"signal": "datum.value === 'TOA estimated by AIC' ? 'M-0.8,0L0.8,0M0,-0.8L0,0.8M-0.56,-0.56L0.56,0.56M-0.56,0.56L0.56,-0.56' : 'M-2.4,0L2.4,0'"}, "fill": {"value": "transparent"}}}}}}
   }},
  {"data": {"name": "d_toa"}, "mark": {"type": "point", "shape": "M-1,0L1,0M0,-1L0,1M-0.7,-0.7L0.7,0.7M-0.7,0.7L0.7,-0.7", "filled": false, "size": 200, "strokeWidth": 1.3, "opacity": 0.8},
   "encoding": {"x": {"field": "s", "type": "quantitative"}, "y": {"field": "v", "type": "quantitative"}, "color": {"datum": "TOA estimated by AIC", "type": "nominal"}}}
 ]},
 {"data": {"name": "d_aic"}, "mark": {"type": "line", "strokeWidth": 1.3},
  "encoding": {
   "x": {"field": "s", "type": "quantitative", "scale": {"domain": [300, 2490], "nice": false, "zero": false}},
   "y": {"field": "aic", "type": "quantitative", "scale": {"domain": [-500, 2000], "nice": false, "zero": false},
     "axis": {"orient": "right", "title": "AIC", "values": [-500,0,500,1000,1500,2000], "labelExpr": "'' + datum.value", "grid": false, "labelFontSize": 8, "labelColor": "#e0743f", "labelPadding": 5, "domainColor": "#D95319", "titleFontSize": 17, "titleColor": "#D95319", "titleFontWeight": "normal", "titleAngle": 270, "titleBaseline": "top", "titlePadding": 4}},
   "color": {"datum": "AIC curve", "type": "nominal"}
  }}
]
}]
}
]
}
]
}
